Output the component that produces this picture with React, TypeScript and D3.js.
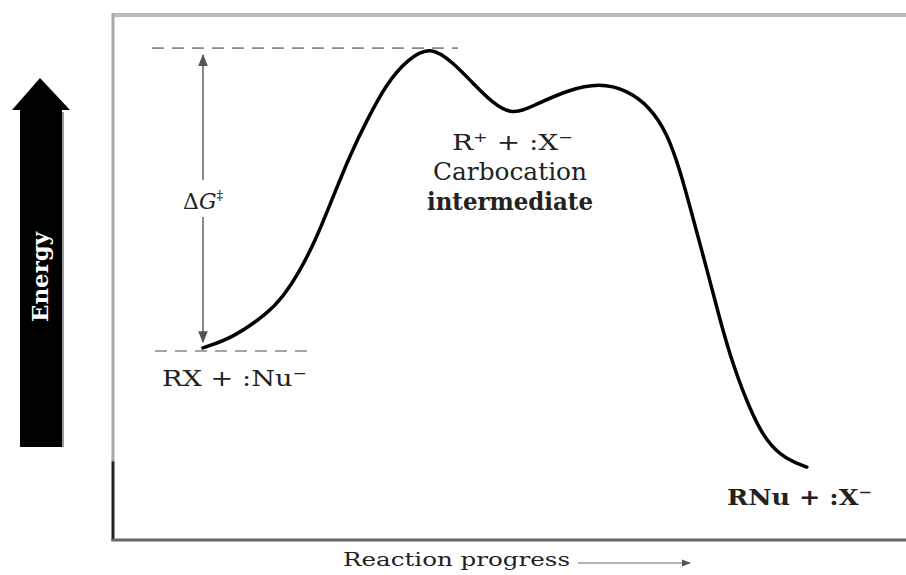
import React from "react";
import * as d3 from "d3";

// Reaction coordinate (0-100) and energy (0-100)
const progress = [11.35, 15.1, 19.4, 21.44, 23.58, 25.73, 27.74, 29.89, 32.03, 34.55, 37.07, 40.0, 42.9, 45.4, 47.9, 50.4, 53.0, 57.3, 61.4, 64.8, 67.7, 69.86, 71.5, 73.14, 74.91, 76.54, 78.18, 80.33, 82.47, 85.0, 87.5];
const energy = [36.6, 38.48, 43.05, 46.29, 51.24, 57.71, 65.33, 73.33, 80.0, 87.05, 91.43, 94.2, 90.9, 87.0, 83.2, 80.95, 82.7, 85.7, 87.05, 85.7, 82.5, 77.52, 70.48, 61.33, 51.43, 41.9, 33.33, 24.76, 18.48, 15.24, 13.9];

// dashed reference levels: energy, start and end progress
const levelEnergy = [36.0, 93.7];
const levelFrom = [5.3, 4.9];
const levelTo = [25.2, 43.5];

const W = 906;
const H = 575;
const FONT = "'DejaVu Serif', serif";

export default function App() {
  const x = d3.scaleLinear().domain([0, 100]).range([113, 906]);
  const y = d3.scaleLinear().domain([0, 100]).range([540, 15]);

  const pts: [number, number][] = progress.map((p, i) => [p, energy[i]]);
  const line = d3
    .line<[number, number]>()
    .x((d) => x(d[0]))
    .y((d) => y(d[1]))
    .curve(d3.curveBasis);

  const gx = x(progress[0]);
  const gTop = y(levelEnergy[1]) + 7;
  const gBot = y(levelEnergy[0]) - 9;

  return (
    <svg
      width={W}
      height={H}
      style={{ position: "absolute", left: 0, top: 0, background: "#fff" }}
    >
      <defs>
        <marker id="ah" viewBox="0 0 10 10" refX="9" refY="5" markerWidth="6" markerHeight="6" orient="auto-start-reverse">
          <path d="M0,1 L10,5 L0,9 z" fill="#555" />
        </marker>
      </defs>

      {/* frame */}
      <line x1={x(0)} x2={W} y1={y(100)} y2={y(100)} stroke="#bbb" strokeWidth={4} />
      <line x1={x(0)} x2={x(0)} y1={y(100) - 2} y2={y(15)} stroke="#aaa" strokeWidth={3} />
      <line x1={x(0)} x2={x(0)} y1={y(15)} y2={y(0) + 1} stroke="#222" strokeWidth={3} />
      <line x1={x(0) - 1.5} x2={W} y1={y(0)} y2={y(0)} stroke="#666" strokeWidth={3} />

      {/* Energy arrow */}
      <path d="M20,447 L20,110 L12,110 L40,78 L70,110 L62,110 L62,447 Z" fill="#000" />
      <line x1={63} x2={63} y1={112} y2={447} stroke="#999" strokeWidth={2} />
      <text
        transform="translate(48,277) rotate(-90)"
        textAnchor="middle"
        fill="#fff"
        fontFamily={FONT}
        fontWeight="bold"
        fontSize={22}
        textLength={90}
        lengthAdjust="spacingAndGlyphs"
      >
        Energy
      </text>

      {/* dashed levels */}
      {levelEnergy.map((e, i) => (
        <line
          key={i}
          x1={x(levelFrom[i])}
          x2={x(levelTo[i])}
          y1={y(e)}
          y2={y(e)}
          stroke="#888"
          strokeWidth={1.6}
          strokeDasharray="12 8"
        />
      ))}

      {/* ΔG‡ double arrow */}
      <line x1={gx} x2={gx} y1={gTop} y2={180} stroke="#888" strokeWidth={2} markerStart="url(#ah)" />
      <line x1={gx} x2={gx} y1={217} y2={gBot} stroke="#888" strokeWidth={2} markerEnd="url(#ah)" />
      <text x={gx} y={209} textAnchor="middle" fontFamily={FONT} fontSize={22} fill="#222">
        <tspan>Δ</tspan>
        <tspan fontStyle="italic">G</tspan>
        <tspan fontSize={13} dy={-9}>‡</tspan>
      </text>

      {/* energy curve */}
      <path d={line(pts) || ""} fill="none" stroke="#000" strokeWidth={3.5} strokeLinecap="round" />

      {/* labels */}
      <text x={162} y={386} fontFamily={FONT} fontSize={23} fill="#222" textLength={145} lengthAdjust="spacingAndGlyphs">
        RX  +  :Nu⁻
      </text>
      <text x={452} y={150} fontFamily={FONT} fontSize={23} fill="#222" textLength={121} lengthAdjust="spacingAndGlyphs">
        R⁺  +  :X⁻
      </text>
      <text x={433} y={180} fontFamily={FONT} fontSize={24} fill="#222" textLength={154} lengthAdjust="spacingAndGlyphs">
        Carbocation
      </text>
      <text x={427} y={210} fontFamily={FONT} fontSize={24} fontWeight="bold" fill="#222" textLength={166} lengthAdjust="spacingAndGlyphs">
        intermediate
      </text>
      <text x={727} y={505} fontFamily={FONT} fontSize={23} fontWeight="bold" fill="#222" textLength={145} lengthAdjust="spacingAndGlyphs">
        RNu  +  :X⁻
      </text>

      {/* x-axis label */}
      <text x={343} y={566} fontFamily={FONT} fontSize={19} fill="#222" textLength={227} lengthAdjust="spacingAndGlyphs">
        Reaction progress
      </text>
      <line x1={578} x2={690} y1={563} y2={563} stroke="#999" strokeWidth={1.5} markerEnd="url(#ah)" />
    </svg>
  );
}
